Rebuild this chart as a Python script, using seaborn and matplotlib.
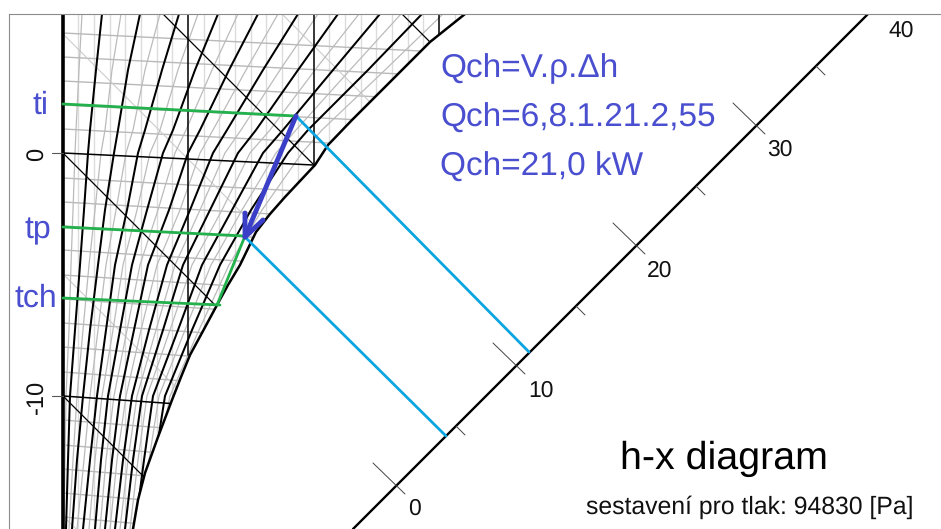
import matplotlib
matplotlib.use('Agg')
import matplotlib.pyplot as plt
from matplotlib.patches import Polygon
import seaborn as sns

# vsechny hodnoty jsou (sour. x, y v pixelech diagramu)
rows = [14, 70, 130, 153, 210, 265, 330, 396, 460, 529]

# krivky konstantni vlhkosti - cerne
x_lines = [
    [102, 96, 90, 88, 84, 80, 75, 70, 68, 66],
    [140, 128, 118, 114, 105, 98, 90, 83, 77, 72],
    [179, 162, 145, 138, 127, 115, 106, 97, 90, 83],
    [218, 195, 173, 163, 147, 132, 120, 108, 101, 95],
    [258, 229, 200, 188, 169, 148, 134, 120, 112, 105],
    [298, 263, 227, 213, 190, 167, 149, 132, 123, 115],
    [338, 298, 256, 238, 210, 183, 163, 142, 133, 125],
    [380, 333, 283, 263, 232, 202, 178, 153, 144, 135],
    [422, 368, 308, 288, 251, 220, 192, 165, 155, 146],
]
# mezilehle krivky - sede
x_lines_mid = [
    [82, 79, 76, 75, 73, 71, 69, 66, 65, 64],
    [121, 112, 105, 101, 95, 89, 83, 77, 73, 69],
    [160, 145, 133, 126, 116, 106, 98, 90, 84, 77],
    [198, 178, 160, 150, 137, 123, 113, 102, 95, 89],
    [238, 212, 186, 175, 158, 140, 127, 114, 106, 100],
    [278, 246, 213, 200, 180, 157, 141, 126, 117, 110],
    [318, 280, 241, 225, 200, 175, 156, 137, 128, 120],
    [359, 315, 270, 250, 222, 192, 170, 147, 138, 130],
    [401, 350, 296, 276, 242, 211, 185, 159, 149, 140],
    [443, 385, 322, 302, 262, 229, 199, 170, 158, 150],
]

sat_x = [465, 430, 377, 352, 328, 315, 300, 285, 270, 256, 240, 228, 217, 203, 190, 181, 172, 158, 145, 138, 133]
sat_y = [14, 42, 95, 120, 145, 165, 181, 197, 214, 232, 265, 285, 305, 331, 355, 377, 400, 437, 473, 500, 529]

# izotermy na levem okraji (x=63) a vpravo (x=480)
iso_left = [33, 57, 81, 105, 129, 178, 202, 226, 250, 275, 299, 323, 347, 372, 420, 445, 469, 493, 517]
iso_right = [54, 78, 102, 126, 151, 201, 226, 251, 276, 302, 327, 352, 377, 403, 453, 479, 504, 529, 554]

# konstantni entalpie (x - y)
h_black = [149, -90, -333, 388]
h_grey = [29, -211, -453, 268]

vert_black = [188, 314, 439]
vert_grey = [78, 94, 110, 125, 141, 157, 172, 204, 219, 235, 251, 266, 282, 298,
             329, 345, 361, 376, 392, 408, 423, 455]

scale_x = [353, 868]
scale_y = [529, 14]
scale_major = [396, 516, 636, 756]
scale_minor = [456, 576, 696, 816]
scale_labels = ['0', '10', '20', '30', '40']
scale_label_x = [414, 541, 660, 780, 901]
scale_label_y = [509, 391, 271, 150, 31]

temp_ticks = [153, 396]
temp_labels = ['0', '-10']
point_labels = ['ti', 'tp', 'tch']
point_label_x = [41, 38, 36]
point_label_y = [105, 230, 298]

green_x = [[63, 296], [63, 245], [63, 220], [217, 245]]
green_y = [[104, 116], [227, 236], [298, 305], [305, 236]]
cyan_x = [[296, 529], [245, 446]]
cyan_y = [[116, 352], [237, 436]]
arrow_x = [296, 245]
arrow_y = [116, 237]
head_x = [245, 245, 263]
head_y = [213, 237, 220]

formulas = ['Qch=V.ρ.Δh', 'Qch=6,8.1.21.2,55', 'Qch=21,0 kW']
formula_y = [69, 118, 167]

sns.set_style('white')
plt.rcParams['font.family'] = ['Liberation Sans', 'DejaVu Sans']
plt.rcParams['text.hinting'] = 'none'

fig = plt.figure(figsize=(9.41, 5.29), dpi=100)
ax = fig.add_axes([9 / 941, 0, 932 / 941, 515 / 529])
ax.set_xlim(9, 941)
ax.set_ylim(529, 14)
ax.set_xticks([])
ax.set_yticks([])
for s in ['right', 'bottom']:
    ax.spines[s].set_visible(False)
for s in ['left', 'top']:
    ax.spines[s].set_color('#8c8c8c')
    ax.spines[s].set_linewidth(0.8)

region = Polygon(list(zip([63] + sat_x + [63], [14] + sat_y + [529])), closed=True,
                 transform=ax.transData, fill=False, edgecolor='none')
ax.add_patch(region)


def line(x, y, color='black', lw=1.0, clip=False):
    sns.lineplot(x=x, y=y, color=color, linewidth=lw, sort=False, estimator=None, ax=ax)
    if clip:
        ax.lines[-1].set_clip_path(region)


# sit - sede cary
for v in vert_grey:
    line([v, v], [14, 529], color='#dcdcdc', lw=1.0, clip=True)
for a, b in zip(iso_left, iso_right):
    line([63, 480], [a, b], color='#b9b9b9', lw=1.0, clip=True)
for c in h_grey:
    line([c + 14, c + 529], [14, 529], color='#cccccc', lw=0.8, clip=True)
for xs in x_lines_mid:
    line(xs, rows, color='#bbbbbb', lw=0.9, clip=True)

# sit - cerne cary
for xs in x_lines:
    line(xs, rows, lw=1.45, clip=True)
for v in vert_black:
    line([v, v], [14, 355], lw=1.1, clip=True)
for c in h_black:
    line([c + 14, c + 529], [14, 529], lw=0.9, clip=True)
line([63, 480], [153, 173], lw=1.1, clip=True)
line([63, 480], [396, 425], lw=1.1, clip=True)

line(sat_x, sat_y, lw=1.8)
line([63, 63], [14, 529], lw=2.6)
line(scale_x, scale_y, lw=1.7)

# stupnice entalpie
for m in scale_major:
    y = 882 - m
    line([m - 23, m + 9], [y - 23, y + 8], color='#444444', lw=0.7)
for m in scale_minor:
    y = 882 - m
    line([m, m + 9], [y, y + 9], color='#444444', lw=0.7)
for t, tx, ty in zip(scale_labels, scale_label_x, scale_label_y):
    ax.text(tx, ty, t, fontsize=16.5, color='#111111', ha='center', va='center')

for t, lab in zip(temp_ticks, temp_labels):
    line([52, 63], [t, t], color='#555555', lw=0.8)
    ax.text(38, t + 1, lab, fontsize=17, rotation=90, color='#111111', ha='center', va='center')

for xs, ys in zip(cyan_x, cyan_y):
    line(xs, ys, color='#0aa5e0', lw=2.0)
for xs, ys in zip(green_x, green_y):
    line(xs, ys, color='#22b14c', lw=2.0)
line(arrow_x, arrow_y, color='#3b3fc8', lw=3.5)
line(head_x, head_y, color='#3b3fc8', lw=3.5)

for t, tx, ty in zip(point_labels, point_label_x, point_label_y):
    ax.text(tx, ty, t, fontsize=23, color='#4a4fd0', ha='center', va='center')
for t, ty in zip(formulas, formula_y):
    ax.text(440, ty, t, fontsize=24, color='#4a4fd0', ha='left', va='center')

ax.text(724, 459, 'h-x diagram', fontsize=28.4, color='black', ha='center', va='center')
ax.text(750, 507, 'sestavení pro tlak: 94830 [Pa]', fontsize=17.8, color='#111111', ha='center', va='center')

fig.savefig('out.png', dpi=100)
